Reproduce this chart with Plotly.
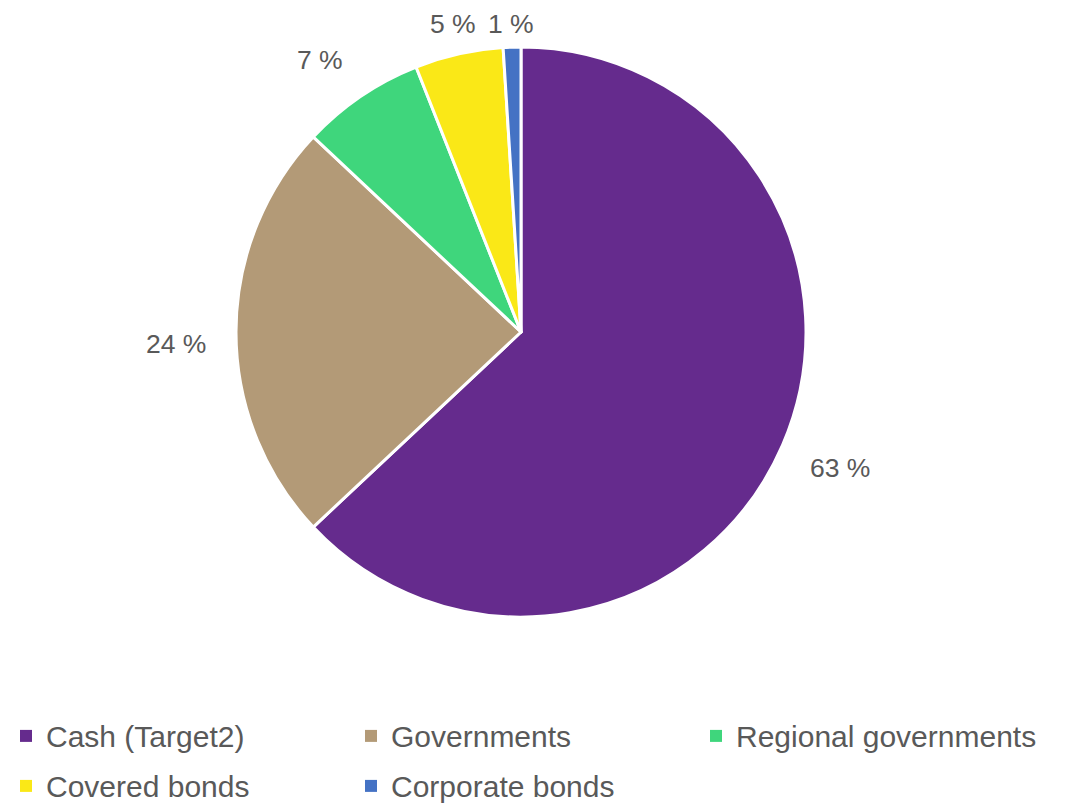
import math
import plotly.graph_objects as go

categories = ["Cash (Target2)", "Governments", "Regional governments", "Covered bonds", "Corporate bonds"]
shares = [63, 24, 7, 5, 1]
colors = ["#652B8D", "#B39A77", "#3FD67C", "#FAE817", "#4472C4"]
legend_rows = ["legend", "legend", "legend", "legend2", "legend2"]

W, H = 1073, 803
cx, cy, r = 521, 332, 285           # pie centre / radius in px from top-left
label_gap = 28                      # label anchor distance beyond the rim
label_min_y = 37                    # lowest allowed bottom edge for top labels
text_color = "#595959"
font_family = "Liberation Sans, Arial"


def fx(px):
    return px / W


def fy(py):
    return (H - py) / H


total = sum(shares)
pct = [v / total * 100 for v in shares]
labels_text = [f"{round(p)} %" for p in pct]

fig = go.Figure()

fig.add_trace(
    go.Pie(
        labels=categories,
        values=shares,
        textinfo="none",
        sort=False,
        direction="clockwise",
        rotation=0,
        hoverinfo="label+percent",
        showlegend=False,
        marker=dict(colors=colors, line=dict(color="white", width=3)),
        domain=dict(x=[fx(cx - r), fx(cx + r)], y=[fy(cy + r), fy(cy - r)]),
    )
)

# legend keys: small squares, 30px text; two one-row legends
for name, col, lg in zip(categories, colors, legend_rows):
    fig.add_trace(
        go.Scatter(
            x=[None], y=[None], mode="markers",
            name=f'<span style="font-size:30px;baseline-shift:-5px">{name}</span>',
            marker=dict(symbol="square", size=12, color=col, line=dict(width=0)),
            hoverinfo="skip", legend=lg,
        )
    )

# percentage labels: anchored just outside the rim at each slice's mid angle
cum = 0.0
for p, txt in zip(pct, labels_text):
    mid = math.radians((cum + p / 2) / 100 * 360)
    cum += p
    ux, uy = math.sin(mid), -math.cos(mid)
    d = r + label_gap
    px, py = cx + d * ux, cy + d * uy
    xa = "left" if ux > 0.3 else ("right" if ux < -0.3 else "center")
    if uy < -0.3:
        ya, shift = "bottom", -4
        py = max(py, label_min_y)
    else:
        ya, shift = "top", 5
    fig.add_annotation(
        x=fx(px), y=fy(py), xref="paper", yref="paper",
        text=txt, showarrow=False, xanchor=xa, yanchor=ya, yshift=shift,
        font=dict(family=font_family, size=26.5, color=text_color),
    )

legend_common = dict(
    orientation="h",
    x=6 / W,
    xanchor="left",
    yanchor="bottom",
    entrywidth=300,
    font=dict(size=16, color=text_color),
    traceorder="normal",
    itemclick=False,
    itemsizing="trace",
)

fig.update_layout(
    width=W,
    height=H,
    margin=dict(l=0, r=0, t=0, b=0),
    paper_bgcolor="white",
    plot_bgcolor="white",
    font=dict(family=font_family, color=text_color),
    xaxis=dict(visible=False),
    yaxis=dict(visible=False),
    showlegend=True,
    legend=dict(y=50 / H, **legend_common),
    legend2=dict(y=0.0, **legend_common),
)

fig.write_html("out.html")
